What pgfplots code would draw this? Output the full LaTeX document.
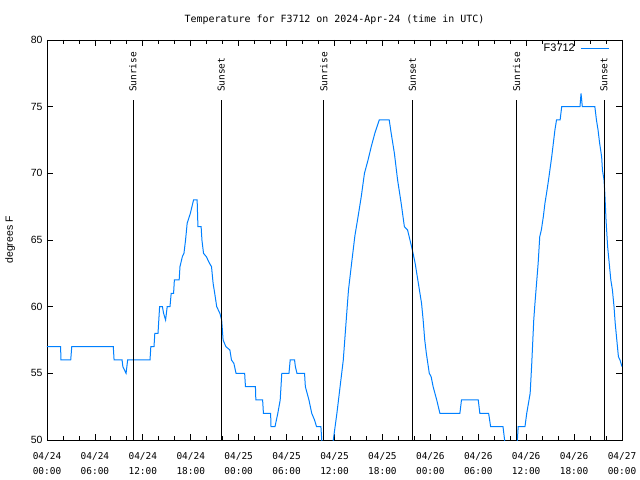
\documentclass[border=0pt]{standalone}
\usepackage{fontspec}
\setmainfont{Liberation Sans}
\newfontfamily\monof{DejaVu Sans Mono}
\usepackage{pgfplots}
\pgfplotsset{compat=1.18}
\definecolor{tline}{RGB}{0,128,255}
\pgfplotstableread{
h T
0 57
1.7 57
1.75 56
2.97 56
3.1 57
8.3 57
8.4 56
9.4 56
9.5 55.5
9.9 55
10.1 56
12.9 56
13.0 57
13.4 57
13.5 58
13.9 58
14.0 59
14.1 60
14.45 60
14.6 59.5
14.85 59
15.05 60
15.4 60
15.55 61
15.85 61
15.95 62
16.55 62
16.65 63
16.95 63.75
17.15 64
17.35 65
17.55 66.25
17.95 67
18.35 68
18.8 68
18.9 66
19.3 66
19.4 65
19.6 64
19.95 63.75
20.35 63.25
20.6 63
20.8 61.75
21.0 61
21.25 60
21.65 59.5
21.87 59
22.05 57.5
22.4 57
22.9 56.75
23.1 56
23.4 55.75
23.67 55
24.75 55
24.85 54
26.1 54
26.15 53
27.0 53
27.1 52
28.0 52
28.05 51
28.55 51
28.9 52
29.2 53
29.4 55
30.3 55
30.45 56
31.0 56
31.1 55.5
31.3 55
32.25 55
32.35 54
32.8 53
33.15 52
33.5 51.5
33.75 51
34.3 51
34.4 50
34.6 49
35.6 49
35.85 50
36.3 52
36.7 54
37.1 56
37.5 59.25
37.75 61.25
38.15 63.3
38.55 65.3
38.95 66.75
39.35 68.25
39.75 70
40.2 71
40.6 72
41.05 73
41.6 74
42.85 74
43.1 73
43.5 71.5
43.9 69.5
44.35 67.75
44.75 66
45.15 65.75
45.75 64.25
46.1 63.25
46.3 62.5
46.5 61.75
46.9 60.25
47.1 59
47.3 57.5
47.5 56.5
47.87 55
48.1 54.75
48.35 54
48.8 53
49.2 52
51.7 52
51.9 53
54.0 53
54.2 52
55.3 52
55.55 51
57.1 51
57.3 50
57.5 49
58.8 49
59.0 51
59.85 51
60.07 52
60.5 53.5
60.7 55.75
60.95 59
61.1 60.25
61.3 61.75
61.5 63.25
61.7 65.25
61.9 65.75
62.15 66.75
62.35 67.75
62.55 68.5
62.8 69.5
63.2 71.25
63.4 72.25
63.6 73.25
63.8 74
64.25 74
64.45 75
66.74 75
66.87 76
67.03 75
68.6 75
68.8 74
69.0 73.25
69.2 72.25
69.45 71.25
69.55 70.25
69.75 69.5
69.85 68.5
70.0 66.5
70.2 64.5
70.4 63.25
70.6 62
70.8 61.25
71.0 60
71.15 58.75
71.35 57.5
71.55 56.25
71.75 56
72 55.5
}\temps
\begin{document}
\begin{tikzpicture}
\useasboundingbox (-47bp,-40bp) rectangle (593bp,440bp);
\begin{axis}[
 at={(0,0)}, anchor=south west,
 scale only axis, width=575bp, height=400bp,
 xmin=0, xmax=72, ymin=50, ymax=80,
 clip=true,
 axis line style={line width=0.8bp},
 xtick={0,6,...,72},
 xticklabels={{04/24\\00:00},{04/24\\06:00},{04/24\\12:00},{04/24\\18:00},{04/25\\00:00},{04/25\\06:00},{04/25\\12:00},{04/25\\18:00},{04/26\\00:00},{04/26\\06:00},{04/26\\12:00},{04/26\\18:00},{04/27\\00:00}},
 xticklabel style={align=center, font=\monof\fontsize{9.5}{15}\selectfont, yshift=-9bp},
 minor x tick num=2,
 ytick={50,55,...,80},
 yticklabel style={font=\fontsize{10.5}{11}\selectfont, xshift=-1bp},
 /pgf/number format/assume math mode=true,
 tick align=inside,
 tick style={black, line width=0.8bp},
 major tick length=6bp, minor tick length=4bp,
 xtick pos=both, ytick pos=both,
 ylabel={degrees F},
 ylabel style={at={(axis description cs:-0.064,0.5)}, anchor=center, font=\fontsize{10.5}{11}\selectfont},
 title={\monof Temperature for F3712 on 2024-Apr-24 (time in UTC)},
 title style={at={(axis description cs:0.5,1)}, anchor=center, yshift=14bp, font=\fontsize{10}{11}\selectfont},
 legend plot pos=right,
 legend style={at={(axis description cs:1,1)}, anchor=north east, draw=none, fill=none, xshift=-12bp, yshift=-2bp, font=\fontsize{11}{12}\selectfont, inner sep=0pt},
 legend image code/.code={\draw[#1] (0bp,0bp) -- (28bp,0bp);},
]
\addplot[tline, line width=1bp] table[x=h,y=T] {\temps};
\addlegendentry{F3712\rule{4bp}{0pt}}
\addplot[black, line width=0.8bp, forget plot] coordinates {(10.76,50) (10.76,75.5)};
\addplot[black, line width=0.8bp, forget plot] coordinates {(21.8,50) (21.8,75.5)};
\addplot[black, line width=0.8bp, forget plot] coordinates {(34.67,50) (34.67,75.5)};
\addplot[black, line width=0.8bp, forget plot] coordinates {(45.75,50) (45.75,75.5)};
\addplot[black, line width=0.8bp, forget plot] coordinates {(58.8,50) (58.8,75.5)};
\addplot[black, line width=0.8bp, forget plot] coordinates {(69.75,50) (69.75,75.5)};
\node[rotate=90, anchor=west, inner sep=0pt, font=\monof\fontsize{9.5}{11}\selectfont] at (axis cs:10.76,76.1) {Sunrise};
\node[rotate=90, anchor=west, inner sep=0pt, font=\monof\fontsize{9.5}{11}\selectfont] at (axis cs:21.8,76.1) {Sunset};
\node[rotate=90, anchor=west, inner sep=0pt, font=\monof\fontsize{9.5}{11}\selectfont] at (axis cs:34.67,76.1) {Sunrise};
\node[rotate=90, anchor=west, inner sep=0pt, font=\monof\fontsize{9.5}{11}\selectfont] at (axis cs:45.75,76.1) {Sunset};
\node[rotate=90, anchor=west, inner sep=0pt, font=\monof\fontsize{9.5}{11}\selectfont] at (axis cs:58.8,76.1) {Sunrise};
\node[rotate=90, anchor=west, inner sep=0pt, font=\monof\fontsize{9.5}{11}\selectfont] at (axis cs:69.75,76.1) {Sunset};
\end{axis}
\end{tikzpicture}
\end{document}
